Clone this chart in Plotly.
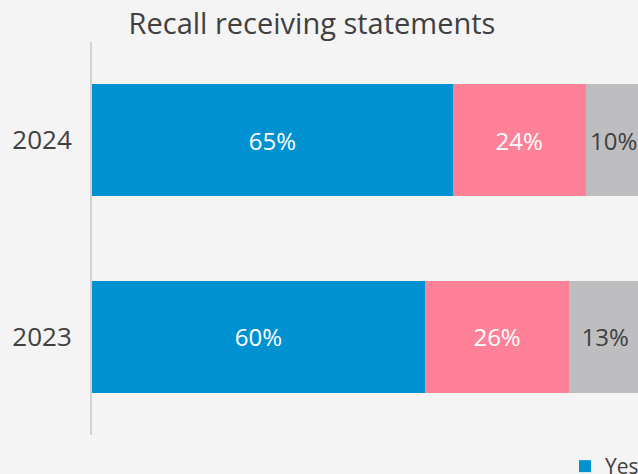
import plotly.graph_objects as go

years = ["2023", "2024"]
yes_vals = [60, 65]
no_vals = [26, 24]
dk_vals = [13, 10]
series_names = ["Yes", "No", "Don't know"]
colors = ["#0091D1", "#FF8198", "#BEBEC0"]
text_colors = ["#FFFFFF", "#FFFFFF", "#404040"]

fig = go.Figure()
for name, vals, col, tc in zip(series_names, [yes_vals, no_vals, dk_vals], colors, text_colors):
    fig.add_trace(go.Bar(
        y=years, x=vals, name=name, orientation="h",
        marker=dict(color=col, line=dict(width=0)),
        text=[f"{v}%" for v in vals], textposition="inside",
        insidetextanchor="middle", constraintext="none",
        textfont=dict(family="Open Sans", size=24, color=tc),
        showlegend=(name == "Yes"), cliponaxis=True,
    ))

fig.update_layout(
    width=638, height=474, barmode="stack", bargap=0.43,
    paper_bgcolor="#F4F4F4", plot_bgcolor="#F4F4F4",
    margin=dict(l=92, r=0, t=42, b=39),
    font=dict(family="Open Sans", color="#404040"),
    title=dict(text="Recall receiving statements", x=312/638, xanchor="center",
               y=1 - 24/474, yanchor="middle", font=dict(size=29, color="#404040")),
    xaxis=dict(range=[0, 98.4], visible=False, fixedrange=True),
    yaxis=dict(range=[-0.5, 1.5], showline=True, linecolor="#D2D2D2", linewidth=2,
               showgrid=False, zeroline=False, tickfont=dict(size=26, color="#404040"),
               ticklabelstandoff=13, fixedrange=True),
    legend=dict(orientation="h", xref="container", yref="container",
                x=565/638, xanchor="left", y=1 - 446/474, yanchor="top",
                itemwidth=30, font=dict(size=21, color="#404040"),
                bgcolor="rgba(0,0,0,0)"),
    uniformtext=dict(mode=False),
)

fig.write_html("out.html", config={"displayModeBar": False},
               post_script="document.body.style.margin='0';document.body.style.overflow='hidden';")
